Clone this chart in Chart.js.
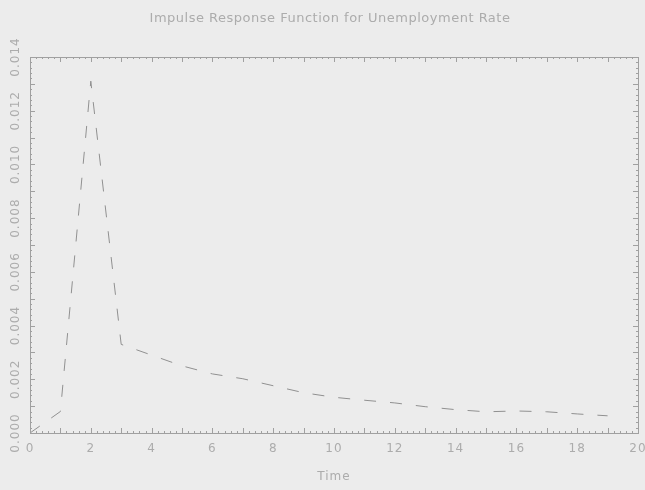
<!DOCTYPE html>
<html>
<head>
<meta charset="utf-8">
<script src="https://cdn.jsdelivr.net/npm/chart.js@4.4.0/dist/chart.umd.min.js"></script>
<style>
  html, body { margin: 0; padding: 0; background: #ececec; }
  #irfChart { display: block; }
</style>
</head>
<body>
<canvas id="irfChart" width="645" height="490"></canvas>
<script>
// impulse response of the unemployment rate, periods 0..19
const periods = [0, 1, 2, 3, 4, 5, 6, 7, 8, 9, 10, 11, 12, 13, 14, 15, 16, 17, 18, 19];
const responses = [0, 0.0008, 0.0131, 0.0033, 0.0029, 0.0025, 0.0022, 0.00202, 0.00176, 0.0015,
    0.00133, 0.00122, 0.00112, 0.00098, 0.00087, 0.00079, 0.00082, 0.00079, 0.00071, 0.00064];

const xTickValues = [0, 2, 4, 6, 8, 10, 12, 14, 16, 18, 20];
const yTickValues = [0, 0.002, 0.004, 0.006, 0.008, 0.010, 0.012, 0.014];

const chartTitle = "Impulse Response Function for Unemployment Rate";
const xAxisTitle = "Time";

const axisColor = "#a0a0a0";
const textColor = "#acacac";
const fontFamily = "'DejaVu Sans', sans-serif";

// box around the plot, inward ticks on all four sides, and all text
const framePlugin = {
    id: "frame",
    afterDraw: function (chart) {
        const ctx = chart.ctx;
        const area = chart.chartArea;
        const xs = chart.scales.x;
        const ys = chart.scales.y;

        ctx.save();
        ctx.strokeStyle = axisColor;
        ctx.lineWidth = 1;
        ctx.strokeRect(Math.round(area.left) + 0.5, Math.round(area.top) + 0.5,
            Math.round(area.right - area.left), Math.round(area.bottom - area.top));

        ctx.beginPath();
        for (let i = 0; i <= 100; i++) {
            const v = i * 0.2;
            const px = Math.round(xs.getPixelForValue(v)) + 0.5;
            const len = i % 5 === 0 ? 5 : 2;
            ctx.moveTo(px, area.bottom);
            ctx.lineTo(px, area.bottom - len);
            ctx.moveTo(px, area.top);
            ctx.lineTo(px, area.top + len);
        }
        for (let i = 0; i <= 70; i++) {
            const v = i * 0.0002;
            const py = Math.round(ys.getPixelForValue(v)) + 0.5;
            const len = i % 5 === 0 ? 5 : 2;
            ctx.moveTo(area.left, py);
            ctx.lineTo(area.left + len, py);
            ctx.moveTo(area.right, py);
            ctx.lineTo(area.right - len, py);
        }
        ctx.stroke();

        ctx.fillStyle = textColor;
        ctx.font = "12px " + fontFamily;
        ctx.letterSpacing = "1px";
        ctx.textAlign = "center";
        ctx.textBaseline = "middle";
        xTickValues.forEach(function (v) {
            ctx.fillText(String(v), xs.getPixelForValue(v), area.bottom + 16);
        });
        yTickValues.forEach(function (v) {
            ctx.save();
            ctx.translate(area.left - 14, ys.getPixelForValue(v));
            ctx.rotate(-Math.PI / 2);
            ctx.fillText(v.toFixed(3), 0, 0);
            ctx.restore();
        });

        ctx.font = "12px " + fontFamily;
        ctx.fillText(xAxisTitle, (area.left + area.right) / 2, area.bottom + 44);

        ctx.font = "13px " + fontFamily;
        ctx.letterSpacing = "0.5px";
        ctx.fillText(chartTitle, (area.left + area.right) / 2 - 4, 19);
        ctx.restore();
    }
};

new Chart(document.getElementById("irfChart"), {
    type: "line",
    data: {
        datasets: [{
            data: periods.map(function (t, i) { return { x: t, y: responses[i] }; }),
            borderColor: "#909090",
            borderWidth: 1,
            borderDash: [12, 14],
            tension: 0,
            pointRadius: 0,
            fill: false
        }]
    },
    options: {
        responsive: false,
        animation: false,
        devicePixelRatio: 1,
        layout: {
            padding: { left: 30, right: 7, top: 57, bottom: 57 }
        },
        plugins: {
            legend: { display: false },
            tooltip: { enabled: false }
        },
        scales: {
            x: { type: "linear", min: 0, max: 20, display: false },
            y: { min: 0, max: 0.014, display: false }
        }
    },
    plugins: [framePlugin]
});
</script>
</body>
</html>
